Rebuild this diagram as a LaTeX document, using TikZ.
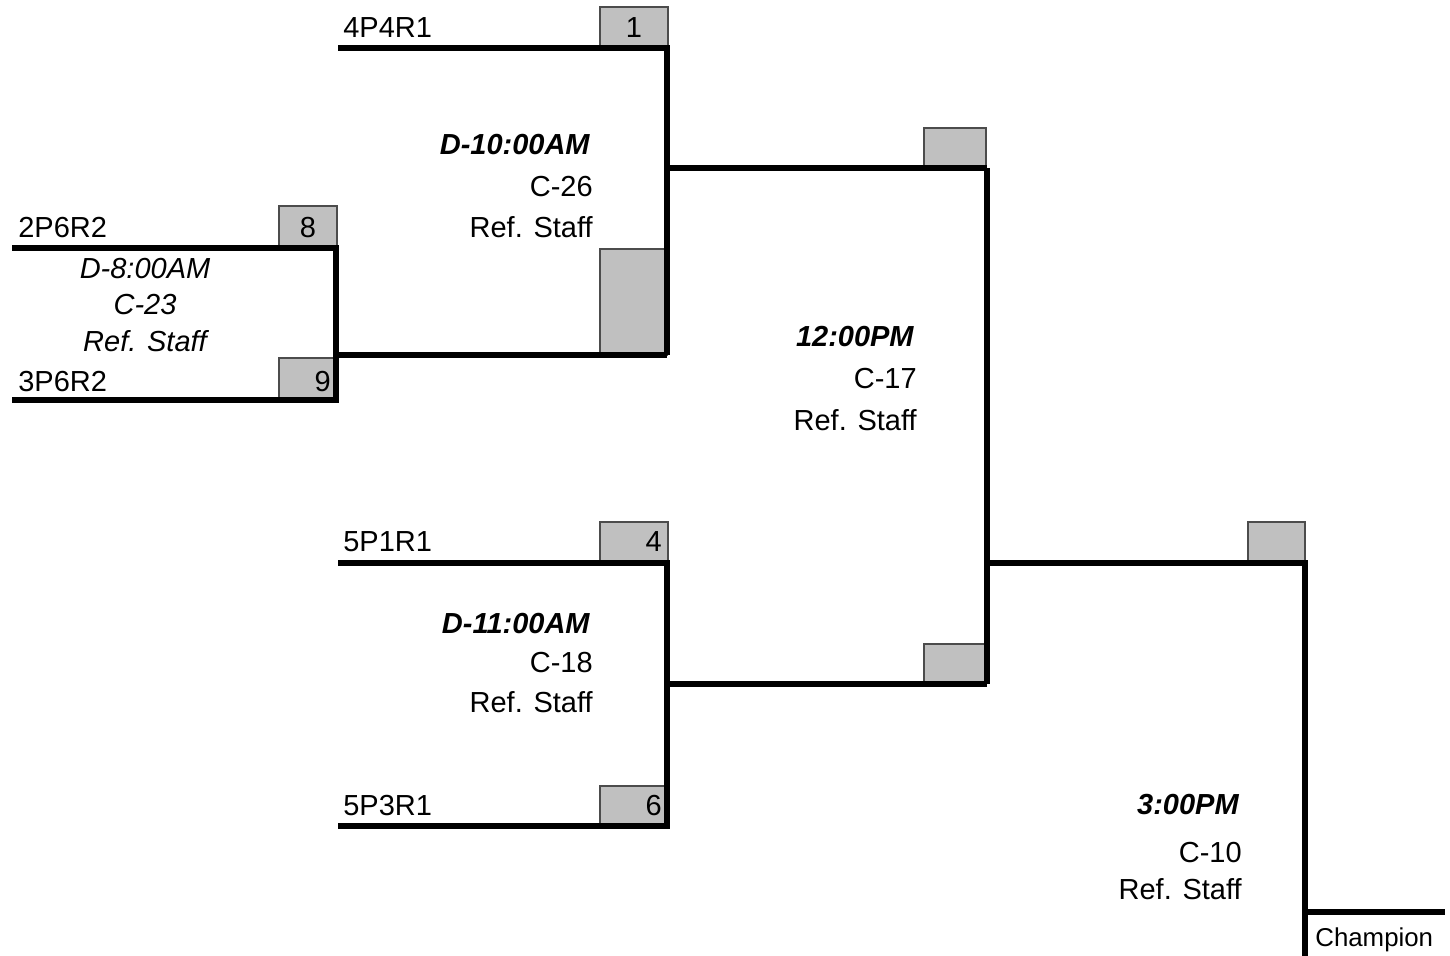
\documentclass[tikz,border=0pt]{standalone}
\usepackage{fontspec}
\setmainfont{Liberation Sans}
\definecolor{seedgray}{HTML}{C0C0C0}
\begin{document}
\begin{tikzpicture}[x=0.02cm, y=-0.02cm]
    % --- styles ---
    \tikzstyle{bracket}=[line width=3.2pt, black]
    \tikzstyle{seedbox}=[fill=seedgray, draw=black!70, line width=0.6pt]
    \tikzstyle{team}=[anchor=base west, inner sep=0pt, font=\fontsize{16.5}{20}\selectfont]
    \tikzstyle{seed}=[anchor=base, inner sep=0pt, font=\fontsize{16.5}{20}\selectfont]
    \tikzstyle{seedr}=[anchor=base east, inner sep=0pt, font=\fontsize{16.5}{20}\selectfont]
    \tikzstyle{info}=[anchor=base east, inner sep=0pt, font=\fontsize{16.5}{20}\selectfont]
    \tikzstyle{slot}=[info, font=\fontsize{16.5}{20}\selectfont\bfseries\itshape]
    \tikzstyle{pre}=[anchor=base, inner sep=0pt, font=\fontsize{16.5}{20}\selectfont\itshape]

    \useasboundingbox (0,0) rectangle (1450,956);

    % 1. seed boxes (grey)
    \draw[seedbox] (279,206) rectangle (337,247);
    \draw[seedbox] (279,358) rectangle (337,399);
    \draw[seedbox] (600,7) rectangle (668,47);
    \draw[seedbox] (600,249) rectangle (667,355);
    \draw[seedbox] (600,522) rectangle (668,561);
    \draw[seedbox] (600,786) rectangle (668,825);
    \draw[seedbox] (924,128) rectangle (986,166);
    \draw[seedbox] (924,644) rectangle (986,683);
    \draw[seedbox] (1248,522) rectangle (1305,561);

    % 2. bracket lines
    % play-in game
    \draw[bracket] (12,248) -- (336,248) -- (336,400) -- (12,400);
    \draw[bracket] (336,355) -- (667,355);
    % first round
    \draw[bracket] (338,48) -- (667,48) -- (667,355);
    \draw[bracket] (667,168) -- (987,168);
    \draw[bracket] (338,563) -- (667,563) -- (667,826) -- (338,826);
    \draw[bracket] (667,684) -- (987,684);
    % semi / final
    \draw[bracket] (987,168) -- (987,684);
    \draw[bracket] (987,563) -- (1305,563) -- (1305,956);
    \draw[bracket] (1305,912) -- (1445,912);

    % 3. teams and seeds
    \node[team] (t2p6) at (18,237) {2P6R2};
    \node[team] (t3p6) at (18,391) {3P6R2};
    \node[team] (t4p4) at (343,38) {4P4R1};
    \node[team] (t5p1) at (343,551) {5P1R1};
    \node[team] (t5p3) at (343,815) {5P3R1};
    \node[seed] (s8) at (308,237) {8};
    \node[seedr] (s9) at (331,391) {9};
    \node[seed] (s1) at (634,38) {1};
    \node[seedr] (s4) at (662,551) {4};
    \node[seedr] (s6) at (662,815) {6};

    % 4. game info
    \node[pre] (g23a) at (145,278) {D-8:00AM};
    \node[pre] (g23b) at (145,314) {C-23};
    \node[pre] (g23c) at (145,351) {Ref. Staff};

    \node[slot] (g26a) at (590,155) {D-10:00AM};
    \node[info] (g26b) at (593,197) {C-26};
    \node[info] (g26c) at (593,237) {Ref. Staff};

    \node[slot] (g18a) at (590,633) {D-11:00AM};
    \node[info] (g18b) at (593,672) {C-18};
    \node[info] (g18c) at (593,712) {Ref. Staff};

    \node[slot] (g17a) at (914,346) {12:00PM};
    \node[info] (g17b) at (917,388) {C-17};
    \node[info] (g17c) at (917,430) {Ref. Staff};

    \node[slot] (g10a) at (1239,814) {3:00PM};
    \node[info] (g10b) at (1242,862) {C-10};
    \node[info] (g10c) at (1242,899) {Ref. Staff};

    \node[team, font=\fontsize{14.7}{18}\selectfont] (champ) at (1315,946) {Champion};

\end{tikzpicture}
\end{document}
